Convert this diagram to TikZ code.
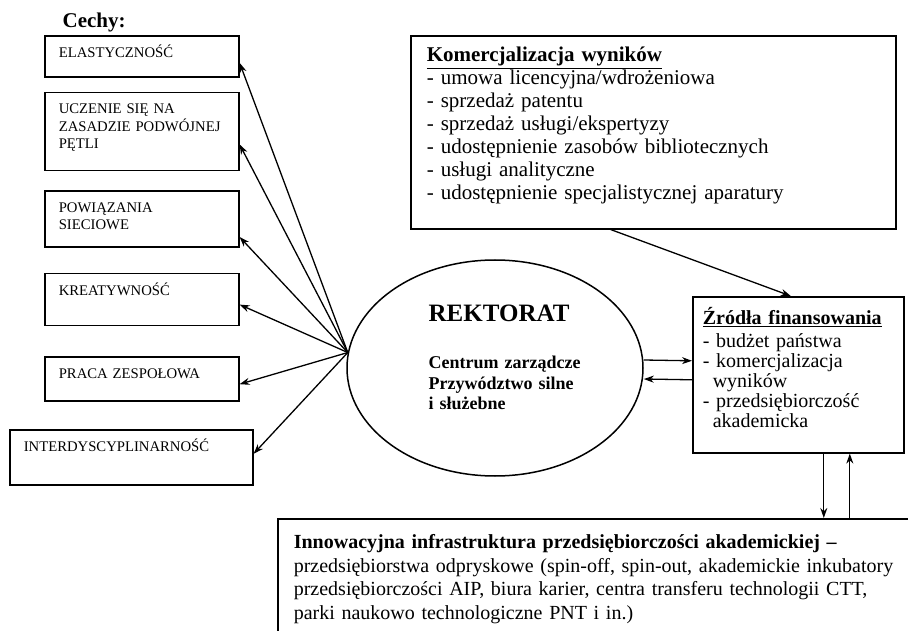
\documentclass[tikz,border=0pt]{standalone}
\usepackage{fontspec}
\setmainfont{Liberation Serif}
\usetikzlibrary{shapes.geometric,arrows.meta,positioning}

\begin{document}
\begin{tikzpicture}[
  x=1pt, y=-1pt,
  >={Stealth[length=10pt,width=7pt]},
  line width=1.3pt,
  cecha/.style={rectangle, draw=black, line width=1.6pt, text width=166pt, align=left,
                inner xsep=14pt, inner ysep=8pt, text height=13.5pt,
                font=\fontsize{14.7}{17.5}\selectfont},
  infobox/.style={rectangle, draw=black, line width=1.6pt, align=left,
                  inner ysep=0pt, anchor=north west}
]
\useasboundingbox (0,0) rectangle (908,631);

% --- Cechy ---
\node[anchor=base west, inner sep=0pt, font=\fontsize{21}{24}\selectfont\bfseries] (cechy) at (62,28) {Cechy:};
\node[cecha, anchor=north west, text depth=11.5pt] (elast) at (44,35) {ELASTYCZNOŚĆ};
\node[cecha, below=14pt of elast, text depth=48.5pt]   (uczenie) {UCZENIE SIĘ NA\\ZASADZIE PODWÓJNEJ\\PĘTLI};
\node[cecha, below=19pt of uczenie, text depth=26.5pt] (powiaz)  {POWIĄZANIA\\SIECIOWE};
\node[cecha, below=25pt of powiaz, text depth=22.5pt]  (kreat)   {KREATYWNOŚĆ};
\node[cecha, below=30pt of kreat, text depth=14.5pt]   (praca)   {PRACA ZESPOŁOWA};
\node[cecha, below=27pt of praca, xshift=-10.5pt, text width=215pt, text depth=25.5pt] (interd) {INTERDYSCYPLINARNOŚĆ};

% --- Rektorat ---
\node[draw, ellipse, line width=1.5pt, minimum width=296pt, minimum height=216pt, inner sep=0pt] (rektorat) at (495,368) {};
\node[anchor=base west, inner sep=0pt, font=\fontsize{25}{30}\selectfont\bfseries] (rektoratTytul) at (428,321.5) {REKTORAT};
\node[anchor=north west, inner sep=0pt, text width=160pt, align=left, text height=13pt,
      font=\fontsize{18}{20.5}\selectfont\bfseries] (rektoratOpis) at (428,355) {Centrum zarządcze\\Przywództwo silne\\i służebne};

% --- Komercjalizacja, finansowanie, infrastruktura ---
\node[infobox, text width=453pt, inner xsep=16pt, text height=26pt, text depth=167pt,
      font=\fontsize{21}{23}\selectfont] (komerc) at (410,35)
  {\textbf{\underline{Komercjalizacja wyników}}\\
   - umowa licencyjna/wdrożeniowa\\
   - sprzedaż patentu\\
   - sprzedaż usługi/ekspertyzy\\
   - udostępnienie zasobów bibliotecznych\\
   - usługi analityczne\\
   - udostępnienie specjalistycznej aparatury};
\node[infobox, text width=191pt, inner xsep=10pt, text height=28pt, text depth=128pt,
      font=\fontsize{20}{20}\selectfont] (zrodla) at (692,296)
  {\textbf{\underline{Źródła finansowania}}\\[3pt]
   - budżet państwa\\
   - komercjalizacja\\
   \hspace*{10pt}wyników\\
   - przedsiębiorczość\\
   \hspace*{10pt}akademicka};
\node[infobox, text width=620pt, inner xsep=16pt, text height=30pt, text depth=130pt,
      font=\fontsize{20}{23.5}\selectfont] (innow) at (277,518)
  {\textbf{Innowacyjna infrastruktura przedsiębiorczości akademickiej –}\\
   przedsiębiorstwa odpryskowe (spin-off, spin-out, akademickie inkubatory\\
   przedsiębiorczości AIP, biura karier, centra transferu technologii CTT,\\
   parki naukowo technologiczne PNT i in.)};

% --- Connectors ---
\coordinate (hub) at (rektorat.174);
\path[->]
  (hub) edge ([yshift=-6.5pt]elast.east)
  (hub) edge ([yshift=-13pt]uczenie.east)
  (hub) edge ([yshift=-18pt]powiaz.east)
  (hub) edge ([yshift=-5pt]kreat.east)
  (hub) edge ([yshift=-5pt]praca.east)
  (hub) edge ([yshift=3.5pt]interd.east)

  ([xshift=-42.5pt]komerc.south) edge ([xshift=-7.5pt]zrodla.north)
  ([yshift=8pt]rektorat.east) edge ([yshift=14pt]zrodla.west)
  ([yshift=-5pt]zrodla.west) edge ([yshift=-11pt]rektorat.east)

  ([xshift=25.5pt]zrodla.south) edge ([xshift=25.5pt]zrodla.south |- innow.north)
  ([xshift=51.5pt]zrodla.south |- innow.north) edge ([xshift=51.5pt]zrodla.south);

\end{tikzpicture}
\end{document}
